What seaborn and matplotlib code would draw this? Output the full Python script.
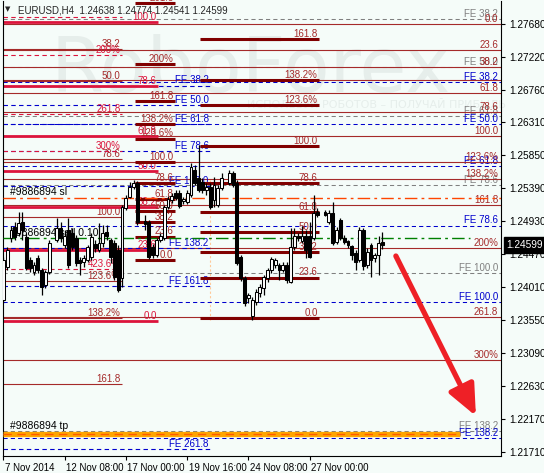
import matplotlib
matplotlib.use("Agg")
import matplotlib.pyplot as plt
import matplotlib.transforms as mtransforms
import seaborn as sns

# ---------------- data ----------------
bar = [0, 1, 2, 3, 4, 5, 6, 7, 8, 9, 10, 11, 12,
       14, 15, 16, 17, 18, 19, 20, 21, 22, 23, 24, 25, 26, 27, 28, 29, 30, 31, 32, 33, 34, 35,
       37, 38, 39, 40, 41, 42, 43, 44, 45, 46, 47, 48, 49, 50, 51, 52, 53, 54, 55, 56, 57,
       59, 60, 61, 62, 63, 64, 65, 66, 67, 68, 69, 70, 71, 72, 73, 74, 75, 76, 77, 78, 79, 80, 81, 82,
       84, 85, 86, 87, 88, 89, 90, 91, 92, 93, 94, 95, 96, 97, 98, 99]

open_ = [1.23833, 1.24293, 1.24697, 1.24851, 1.24767, 1.24920, 1.24711, 1.24390, 1.24223, 1.24418, 1.24251, 1.24042, 1.24223,
         1.24669, 1.24837, 1.24599, 1.24809, 1.24767, 1.24697, 1.24390, 1.24362, 1.24390, 1.24432, 1.24613, 1.24530, 1.24627, 1.24781, 1.24669, 1.24627, 1.24530, 1.24139, 1.25115, 1.25269, 1.25408, 1.25464,
         1.24934, 1.24920, 1.24571, 1.24460, 1.24669, 1.24697, 1.25129, 1.25227, 1.25325, 1.25325, 1.25213, 1.25199, 1.25297, 1.25645, 1.25533, 1.25478, 1.25366, 1.25408, 1.25227, 1.25157, 1.25394,
         1.25464, 1.25603, 1.25464, 1.24432, 1.24139, 1.23861, 1.23610, 1.23805, 1.23930, 1.24000, 1.24139, 1.24251, 1.24321, 1.24321, 1.24251, 1.24321, 1.24084, 1.24571, 1.24725, 1.24655, 1.24725, 1.24725, 1.24697, 1.25060,
         1.25060, 1.24920, 1.25046, 1.24641, 1.24948, 1.24697, 1.24655, 1.24585, 1.24488, 1.24390, 1.24809, 1.24321, 1.24599, 1.24418, 1.24460, 1.24638]

high = [1.24432, 1.24571, 1.24865, 1.24920, 1.25060, 1.25060, 1.24767, 1.24432, 1.24362, 1.24460, 1.24279, 1.24251, 1.24669,
        1.24976, 1.24920, 1.24809, 1.24976, 1.24837, 1.24739, 1.24432, 1.24460, 1.24599, 1.24767, 1.24669, 1.24906, 1.24879, 1.24879, 1.24697, 1.24669, 1.24599, 1.25157, 1.25297, 1.25478, 1.25505, 1.25492,
        1.25018, 1.24948, 1.24613, 1.24697, 1.24767, 1.25157, 1.25283, 1.25325, 1.25366, 1.25366, 1.25269, 1.25366, 1.25742, 1.25715, 1.25993, 1.25533, 1.25464, 1.25464, 1.25547, 1.25436, 1.25603,
        1.25645, 1.25631, 1.25505, 1.24460, 1.24167, 1.23930, 1.23875, 1.23986, 1.24056, 1.24181, 1.24279, 1.24432, 1.24418, 1.24348, 1.24362, 1.24362, 1.24837, 1.24837, 1.24767, 1.24865, 1.24809, 1.24920, 1.25297, 1.25115,
        1.25088, 1.25088, 1.25199, 1.24851, 1.24976, 1.24739, 1.24669, 1.24599, 1.24530, 1.24851, 1.24837, 1.24558, 1.24627, 1.24488, 1.24725, 1.24774]

low = [1.23791, 1.24251, 1.24641, 1.24669, 1.24725, 1.24669, 1.24251, 1.24223, 1.24181, 1.24209, 1.23902, 1.24000, 1.24195,
       1.24641, 1.24641, 1.24558, 1.24279, 1.24530, 1.24307, 1.24181, 1.24293, 1.24362, 1.24390, 1.24502, 1.24502, 1.24571, 1.24669, 1.24348, 1.24111, 1.23944, 1.24014, 1.25088, 1.25255, 1.25380, 1.24879,
       1.24809, 1.24404, 1.24418, 1.24432, 1.24641, 1.24669, 1.25102, 1.25185, 1.25227, 1.25115, 1.25171, 1.25171, 1.25269, 1.25436, 1.25338, 1.25325, 1.25297, 1.25102, 1.25129, 1.25129, 1.25366,
       1.25436, 1.25408, 1.24321, 1.24098, 1.23749, 1.23791, 1.23554, 1.23763, 1.23875, 1.23902, 1.24084, 1.24209, 1.24279, 1.24111, 1.24223, 1.24070, 1.24070, 1.24530, 1.24655, 1.24627, 1.24418, 1.24418, 1.24669, 1.24990,
       1.25004, 1.24892, 1.24599, 1.24613, 1.24669, 1.24613, 1.24558, 1.24390, 1.24251, 1.24362, 1.24251, 1.24279, 1.24153, 1.24362, 1.24181, 1.24541]

close = [1.24390, 1.24530, 1.24809, 1.24711, 1.24906, 1.24809, 1.24279, 1.24279, 1.24321, 1.24251, 1.24014, 1.24223, 1.24627,
         1.24837, 1.24697, 1.24725, 1.24321, 1.24571, 1.24348, 1.24348, 1.24418, 1.24571, 1.24711, 1.24558, 1.24627, 1.24767, 1.24725, 1.24432, 1.24153, 1.23972, 1.25129, 1.25255, 1.25408, 1.25464, 1.24920,
         1.24892, 1.24432, 1.24460, 1.24669, 1.24725, 1.25129, 1.25241, 1.25283, 1.25255, 1.25143, 1.25241, 1.25325, 1.25687, 1.25464, 1.25366, 1.25366, 1.25408, 1.25129, 1.25436, 1.25394, 1.25533,
         1.25603, 1.25436, 1.24348, 1.24139, 1.23791, 1.23902, 1.23833, 1.23944, 1.24014, 1.24153, 1.24251, 1.24404, 1.24390, 1.24251, 1.24321, 1.24111, 1.24571, 1.24725, 1.24697, 1.24725, 1.24530, 1.24432, 1.25046, 1.25018,
         1.25018, 1.25046, 1.24627, 1.24809, 1.24697, 1.24641, 1.24599, 1.24460, 1.24362, 1.24809, 1.24307, 1.24502, 1.24390, 1.24460, 1.24627, 1.24599]

x_tick_pos = [0, 16, 32, 48, 64, 80]
x_tick_labels = ["7 Nov 2014", "12 Nov 08:00", "17 Nov 00:00", "19 Nov 16:00", "24 Nov 08:00", "27 Nov 00:00"]
y_ticks = [1.27680, 1.27220, 1.26760, 1.26310, 1.25850, 1.25390, 1.24930,
           1.24470, 1.24010, 1.23550, 1.23090, 1.22630, 1.22170, 1.21710]

# Fibonacci objects (labels, prices, time span in bars)
fibA_lab = ["0.0", "23.6", "38.2", "61.8", "78.6", "100.0", "123.6%", "138.2%", "161.8", "200%", "261.8", "300%"]
fibA_px = [1.27680, 1.27312, 1.27084, 1.26715, 1.26453, 1.26119, 1.25751, 1.25523, 1.25154, 1.24558, 1.23593, 1.22997]
fibA_span = (-0.1, 130.0)

fibB_lab = ["38.2", "50.0", "78.6", "100.0", "123.6%", "138.2%", "161.8"]
fibB_px = [1.27326, 1.26880, 1.25801, 1.24994, 1.24103, 1.23582, 1.22662]
fibB_span = (-0.1, 31.0)

fibC_lab = ["0.0", "23.6", "38.2", "50.0", "61.8", "78.6", "100.0", "123.6%", "138.2%", "161.8"]
fibC_px = [1.23578, 1.24146, 1.24497, 1.24781, 1.25065, 1.25469, 1.25984, 1.26552, 1.26903, 1.27471]
fibC_span = (51.4, 82.4)

fibD_lab = ["0.0", "23.6", "38.2", "50.0", "61.8", "78.6", "100.0", "123.6%", "138.2%", "161.8", "200%", "261.8"]
fibD_px = [1.24395, 1.24717, 1.24917, 1.25078, 1.25239, 1.25469, 1.25761, 1.26083, 1.26283, 1.26605, 1.27127, 1.27971]
fibD_span = (34.4, 44.8)

fibE_lab = ["0.0", "23.6", "38.2", "50.0", "61.8", "78.6", "100.0"]
fibE_px = [1.23540, 1.24525, 1.25134, 1.25626, 1.26118, 1.26819, 1.27712]
fibE_span = (-0.1, 40.4)

fibF_lab = ["", "200%", "261.8", "300%", "423.6%"]
fibF_px = [1.27771, 1.27248, 1.26421, 1.25910, 1.24270]
fibF_span = (-0.1, 31.0)

feB1_lab = ["FE 38.2", "FE 50.0", "FE 61.8", "FE 78.6", "FE 100.0", "FE 138.2", "FE 161.8", "FE 261.8"]
feB1_px = [1.26822, 1.26555, 1.26288, 1.25907, 1.25422, 1.24556, 1.24021, 1.21755]
feB1_span = (-0.1, 54.0)

feB2_lab = ["FE 38.2", "FE 50.0", "FE 61.8", "FE 78.6", "FE 100.0", "FE 138.2"]
feB2_px = [1.26876, 1.26290, 1.25705, 1.24871, 1.23809, 1.21914]
feB2_span = (-0.1, 130.0)

feG_lab = ["FE 38.2", "FE 50.0", "FE 61.8", "FE 78.6", "FE 100.0", "FE 138.2"]
feG_px = [1.27754, 1.27076, 1.26399, 1.25435, 1.24205, 1.22011]
feG_span = (-0.1, 130.0)

extra_level = [1.26899]

order_sl = 1.25251
order_sell = 1.24693
order_tp = 1.21960
sell_end = 121.8
tp_end = 119.2
vline_bar = 54.0
vline_range = (1.23554, 1.25505)

arrow_from = (102.5, 1.24446)
arrow_to = (123.4, 1.22215)

title = "EURUSD,H4  1.24638 1.24774 1.24541 1.24599"
last_price = close[-1]

# ---------------- style ----------------
sns.set_style("white")
plt.rcParams["font.family"] = ["Liberation Sans", "DejaVu Sans"]
BG = "#F5FCF9"

fig = plt.figure(figsize=(5.44, 4.73), dpi=100, facecolor=BG)
ax = fig.add_axes([3 / 544, 17 / 473, 498 / 544, 455 / 473])
ax.set_facecolor(BG)
ax.set_xlim(-0.08, 129.95)
ax.set_ylim(1.21658, 1.28001)

BROWN = "#A52A2A"
MAROON = "#800000"
CRIMSON = "#DC143C"
BLUE = "#0000CD"
GRAY = "#808080"
FS = 7


def levels(prices, labels, span, color, lw, ls, tcolor, z, label_x=None):
    x0, x1 = span
    lx = x1 if label_x is None else label_x
    for p, lab in zip(prices, labels):
        ax.hlines(p, x0, x1, colors=color, linewidth=lw, linestyles=ls, zorder=z)
        if lab:
            ax.annotate(lab, (lx, p), xytext=(-1, 1.5), textcoords="offset points",
                        ha="right", va="baseline", fontsize=FS, color=tcolor, zorder=z + 0.05)


# watermark
ax.text(0.095, 0.80, "RoboForex", transform=ax.transAxes, fontsize=55, color="#E6EEEB",
        family="DejaVu Sans", zorder=0.5)
ax.text(0.49, 0.765, "ИСПОЛЬЗУЙ РОБОТОВ – ПОЛУЧАЙ ПРИБЫЛЬ", transform=ax.transAxes, fontsize=8,
        color="#E6EEEB", family="DejaVu Sans", zorder=0.5)

levels(feG_px, feG_lab, feG_span, GRAY, 0.75, (0, (4, 3)), GRAY, 1.6, label_x=129.6)
levels(feB2_px, feB2_lab, feB2_span, BLUE, 0.75, (0, (4, 3)), BLUE, 1.7, label_x=129.6)
levels(fibA_px, fibA_lab, fibA_span, BROWN, 0.8, "-", BROWN, 1.8, label_x=129.6)
ax.hlines(extra_level, -0.1, 130, colors=BROWN, linewidth=0.8, zorder=1.8)
levels(fibB_px, fibB_lab, fibB_span, BROWN, 0.8, "-", BROWN, 1.9)
levels(feB1_px, feB1_lab, feB1_span, BLUE, 0.8, (0, (4, 3)), BLUE, 2.0)
levels(fibF_px, fibF_lab, fibF_span, CRIMSON, 0.8, (0, (4, 3)), CRIMSON, 2.1)
levels(fibE_px, fibE_lab, fibE_span, CRIMSON, 2.0, "-", CRIMSON, 2.2)
levels(fibD_px, fibD_lab, fibD_span, MAROON, 2.2, "-", BROWN, 2.3)
levels(fibC_px, fibC_lab, fibC_span, MAROON, 2.2, "-", BROWN, 2.3)

# vertical dotted line
ax.vlines(vline_bar, vline_range[0], vline_range[1], colors="#FFC999", linewidth=0.8,
          linestyles=(0, (2, 2)), zorder=1.5)

# orders
ax.hlines(order_sl, -0.1, 130, colors="#FF4500", linewidth=1.0, linestyles=(0, (9, 3, 2, 3)), zorder=2.6)
ax.annotate("#9886894 sl", (1.8, order_sl), xytext=(0, 2), textcoords="offset points",
            ha="left", va="baseline", fontsize=FS + 0.5, color="black", zorder=2.7)
ax.hlines(order_sell, -0.1, sell_end, colors="#008000", linewidth=1.0, linestyles=(0, (9, 3, 2, 3)), zorder=2.6)
ax.annotate("#9886894 sell 0.10", (1.8, order_sell), xytext=(0, 2), textcoords="offset points",
            ha="left", va="baseline", fontsize=FS + 0.5, color="black", zorder=2.7)
ax.hlines(order_tp, -0.1, tp_end, colors="#FFA500", linewidth=3.8, zorder=2.6)
ax.hlines(order_tp, -0.1, tp_end, colors="#FF5A00", linewidth=1.0, linestyles=(0, (6, 4)), zorder=2.65)
ax.annotate("#9886894 tp", (1.8, order_tp), xytext=(0, 3.5), textcoords="offset points",
            ha="left", va="baseline", fontsize=FS + 0.5, color="black", zorder=2.7)

# candles
bodies_bottom = [min(o, c) for o, c in zip(open_, close)]
bodies_height = [max(abs(c - o), 0.00003) for o, c in zip(open_, close)]
faces = ["white" if c >= o else "black" for o, c in zip(open_, close)]
ax.vlines(bar, low, high, colors="black", linewidth=0.9, zorder=4.5)
ax.bar(bar, bodies_height, bottom=bodies_bottom, width=0.75, color=faces,
       edgecolor="black", linewidth=0.75, zorder=5)

# arrow
ax.annotate("", xy=arrow_to, xytext=arrow_from,
            arrowprops=dict(arrowstyle="-|>,head_length=1.7,head_width=0.75", mutation_scale=11,
                            lw=3.8, color="#EE2026", shrinkA=0, shrinkB=0), zorder=8)

# title
ax.text(0.004, 0.982, "▼", transform=ax.transAxes, fontsize=5, va="center", ha="left",
        family="DejaVu Sans", zorder=9)
ax.text(0.030, 0.980, title, transform=ax.transAxes, fontsize=FS, va="center", ha="left", zorder=9)

# axes
ax.yaxis.tick_right()
ax.set_yticks(y_ticks)
ax.set_yticklabels([f"{v:.5f}" for v in y_ticks], fontsize=FS + 0.3)
ax.set_xticks(x_tick_pos)
ax.set_xticklabels(x_tick_labels, fontsize=FS, ha="left")
ax.tick_params(axis="y", right=True, left=False, length=3, width=0.8, pad=3, colors="black")
ax.tick_params(axis="x", bottom=True, length=3, width=0.8, pad=2, colors="black")
shift = mtransforms.ScaledTranslation(1.5 / 100, 0, fig.dpi_scale_trans)
for lab in ax.get_xticklabels():
    lab.set_horizontalalignment("left")
    lab.set_transform(lab.get_transform() + shift)
sns.despine(ax=ax, top=True, right=False, left=False, bottom=False)
for s in ["left", "right", "bottom"]:
    ax.spines[s].set_color("black")
    ax.spines[s].set_linewidth(0.8)
ax.grid(False)

# current price tag
trans = mtransforms.blended_transform_factory(ax.transAxes, ax.transData)
ax.text(1.011, last_price, f"{last_price:.5f}", transform=trans, color="white", fontsize=FS + 0.3,
        va="center", ha="left", clip_on=False, zorder=10,
        bbox=dict(boxstyle="square,pad=0.28", fc="black", ec="black"))

fig.savefig("out.png", dpi=100, facecolor=BG)
